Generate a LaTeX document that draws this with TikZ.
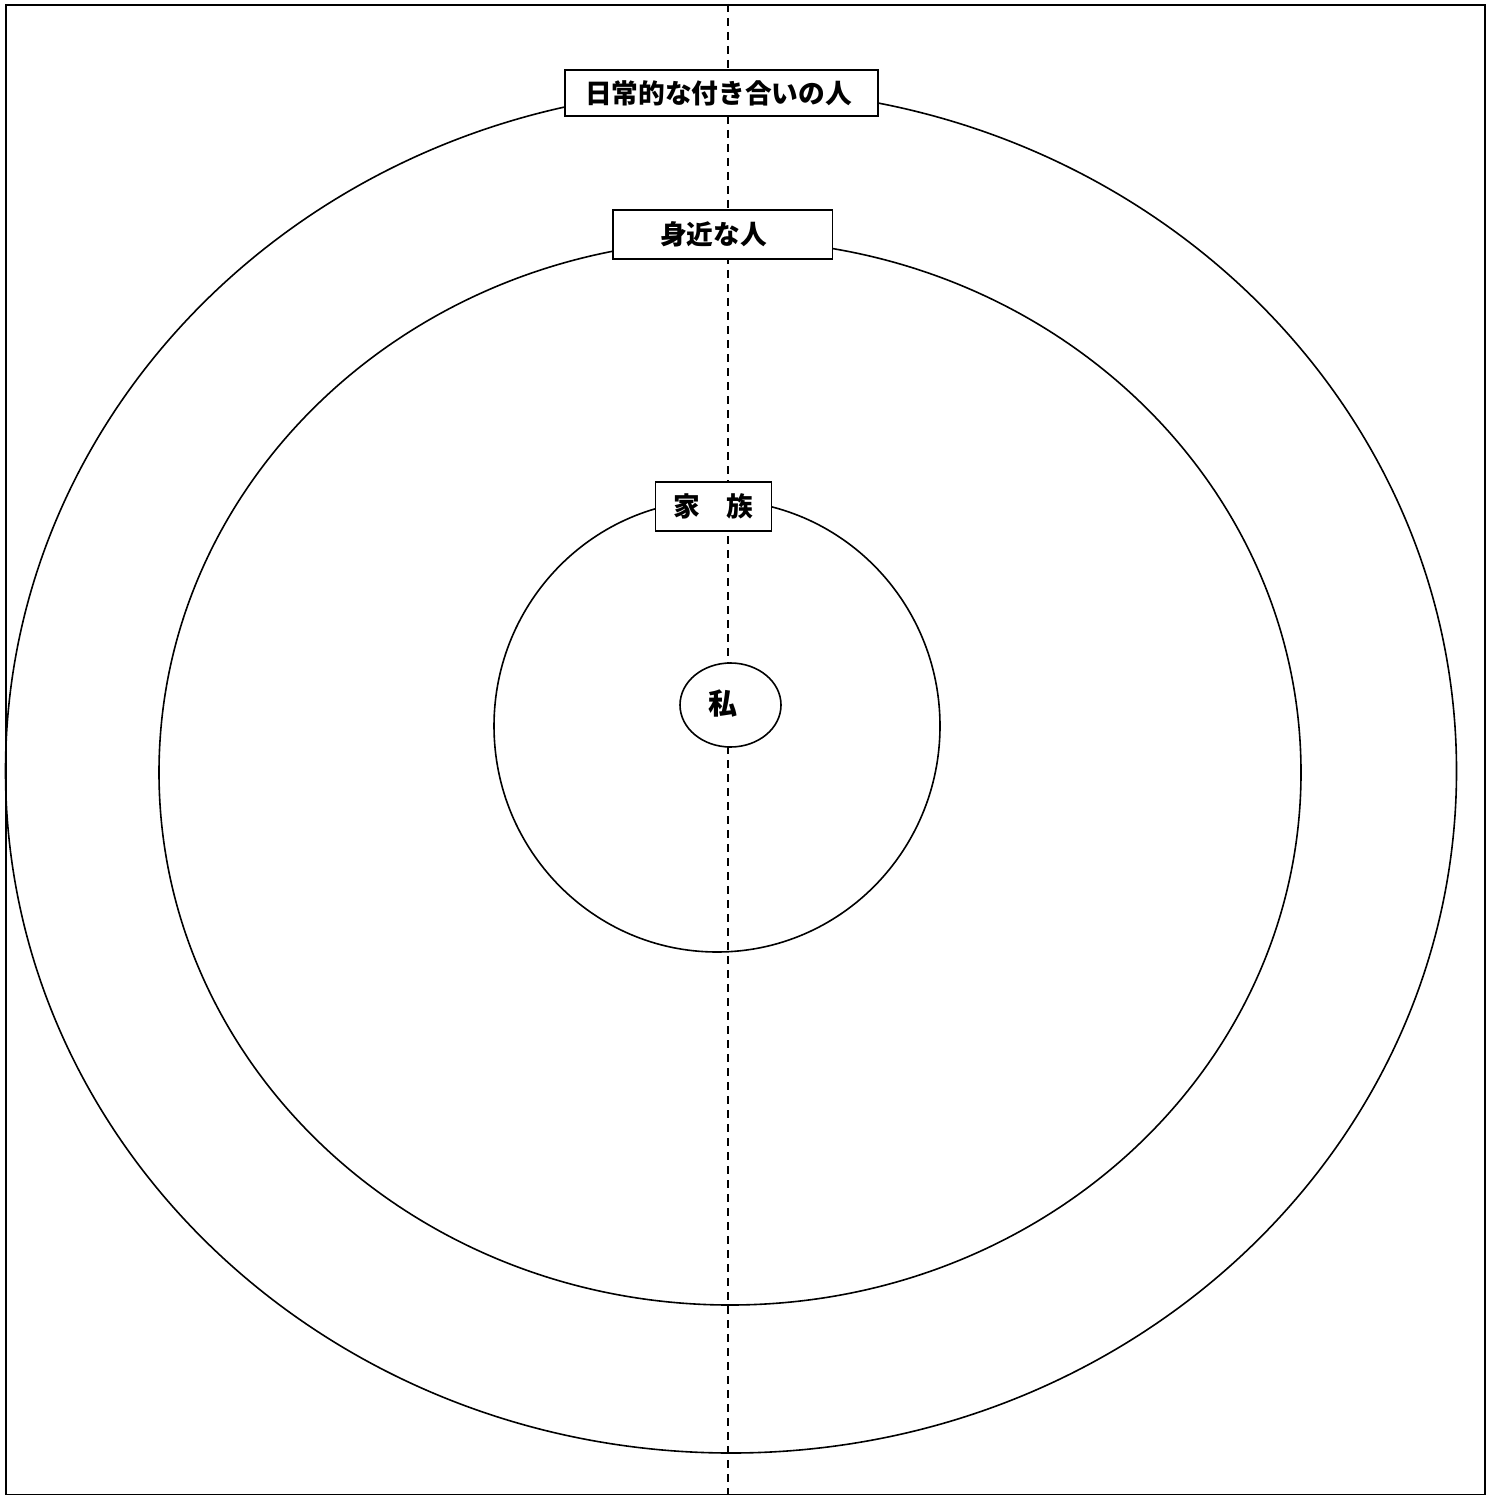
\documentclass[tikz,border=0pt]{standalone}
\usepackage{fontspec}
\newfontfamily\jp{Noto Sans CJK JP}
\usetikzlibrary{shapes.geometric}
\tikzset{
  ln/.style={line width=1.6pt},
  ring/.style={ln},
  tag/.style={draw, ln, fill=white, inner sep=0pt, font=\jp\bfseries\fontsize{26.7}{32}\selectfont},
  axis/.style={line width=1.4pt, dash pattern=on 8pt off 6pt}
}
\begin{document}
\begin{tikzpicture}[x=1pt,y=-1pt]
\useasboundingbox (0,0) rectangle (1485,1495);
\node[draw, ln, minimum width=1479pt, minimum height=1490pt, inner sep=0pt, anchor=north west] (frame) at (5,4) {};
\coordinate (top) at (728,4);
\coordinate (bot) at (728,1494);
\draw[axis] (top) -- (bot);
% rings
\draw[ring] (731,771) ellipse [x radius=725.5, y radius=682];
\draw[ring] (730,772.5) ellipse [x radius=571, y radius=532.5];
\draw[ring] (717,726) ellipse [x radius=223, y radius=226];
% me
\node[draw, ln, fill=white, ellipse, minimum width=101pt, minimum height=84pt, inner sep=0pt,
      font=\jp\bfseries\fontsize{29}{32}\selectfont] (me) at (730.5,705) {\raisebox{5pt}{私}\hspace*{16pt}};
% tags
\node[tag, minimum width=313pt, minimum height=46pt] (daily) at (721.5,93) {日常的な付き合いの人\hspace*{6pt}};
\node[tag, minimum width=219.6pt, minimum height=49pt] (close) at (722.5,234.5) {身近な人\hspace*{18pt}};
\node[tag, minimum width=116pt, minimum height=49pt] (family) at (713.5,506.5) {家　族};
\end{tikzpicture}
\end{document}
